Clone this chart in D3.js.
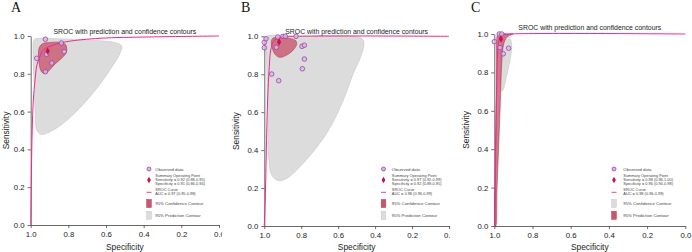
<!DOCTYPE html>
<html>
<head>
<meta charset="utf-8">
<script src="https://cdn.jsdelivr.net/npm/d3@7"></script>
<style>
  html, body { margin: 0; padding: 0; background: #fff; }
  svg { display: block; font-family: "Liberation Sans", Arial, sans-serif; }
  .axis path, .axis line { stroke: #444; stroke-width: 0.8; }
  .axis text { fill: #222; font-size: 7.8px; }
  .title { font-size: 6.9px; fill: #222; }
  .axlabel { font-size: 8.4px; fill: #222; }
  .letter { font-family: "Liberation Serif", "Times New Roman", serif; font-size: 14px; fill: #111; }
  .legend text { font-size: 4.3px; fill: #444; }
  .legend text.small { font-size: 3.9px; }
</style>
</head>
<body>
<svg id="chart" width="692" height="252"></svg>
<script>
/* =======================
   DATA  (spec, sens pairs)
======================= */

const ticks = [1.0, 0.8, 0.6, 0.4, 0.2, 0.0];
const title = "SROC with prediction and confidence contours";

// Panel A
const aObserved = [[0.968, 0.882], [0.922, 0.983], [0.837, 0.963], [0.822, 0.917],
                   [0.888, 0.857], [0.922, 0.811], [0.916, 0.903]];
const aSummary = [0.91, 0.92];
const aRed = [[0.953, 0.942], [0.935, 0.960], [0.897, 0.966], [0.844, 0.966], [0.815, 0.955],
              [0.810, 0.915], [0.834, 0.884], [0.871, 0.852], [0.908, 0.812], [0.929, 0.802],
              [0.945, 0.815], [0.956, 0.862], [0.959, 0.910]];
const aGray = [[0.979, 0.983], [0.951, 0.988], [0.809, 0.984], [0.632, 0.975], [0.552, 0.965],
               [0.517, 0.947], [0.522, 0.917], [0.579, 0.820], [0.685, 0.679], [0.827, 0.538],
               [0.915, 0.485], [0.947, 0.480], [0.968, 0.503], [0.976, 0.591], [0.982, 0.750],
               [0.988, 0.926], [0.986, 0.970]];
const aSroc = [[1.0, 0.0], [0.998, 0.132], [0.996, 0.291], [0.992, 0.503], [0.986, 0.661],
               [0.977, 0.767], [0.967, 0.847], [0.954, 0.884], [0.933, 0.926], [0.880, 0.952],
               [0.809, 0.970], [0.632, 0.988], [0.366, 0.995], [0.0, 1.0]];
const aSummaryText = ["Summary Operating Point", "Sensitivity = 0.92 (0.88-0.95)", "Specificity = 0.91 (0.86-0.94)"];
const aCurveText = ["SROC Curve", "AUC = 0.97 (0.95-0.98)"];

// Panel B
const bObserved = [[1.0, 0.968], [1.0, 0.940], [0.991, 0.987], [0.927, 0.996], [0.899, 1.0],
                   [0.886, 1.0], [0.828, 1.0], [0.935, 0.942], [0.796, 0.947], [0.783, 0.953],
                   [0.783, 0.880], [0.794, 0.829], [0.960, 0.801], [0.922, 0.766]];
const bSummary = [0.92, 0.97];
const bRed = [[0.955, 0.989], [0.915, 0.993], [0.861, 0.989], [0.830, 0.977], [0.825, 0.958],
              [0.843, 0.928], [0.879, 0.901], [0.915, 0.889], [0.938, 0.901], [0.955, 0.931],
              [0.962, 0.963]];
const bGray = [[0.991, 0.998], [0.825, 1.0], [0.500, 0.998], [0.467, 0.984], [0.460, 0.963],
               [0.478, 0.892], [0.518, 0.805], [0.572, 0.664], [0.662, 0.489], [0.789, 0.331],
               [0.879, 0.251], [0.924, 0.239], [0.960, 0.269], [0.975, 0.348], [0.982, 0.576],
               [0.987, 0.840], [0.991, 0.963]];
const bSroc = [[1.0, 0.0], [0.995, 0.137], [0.987, 0.489], [0.982, 0.664], [0.973, 0.840],
               [0.965, 0.928], [0.951, 0.972], [0.915, 0.995], [0.825, 1.0], [0.0, 1.0]];
const bSummaryText = ["Summary Operating Point", "Sensitivity = 0.97 (0.92-0.99)", "Specificity = 0.92 (0.89-0.95)"];
const bCurveText = ["SROC Curve", "AUC = 0.98 (0.96-0.99)"];

// Panel C
const cObserved = [[1.0, 0.960], [0.974, 1.0], [0.961, 1.0], [0.970, 0.929], [0.953, 0.897], [0.925, 0.926]];
const cSummary = [0.965, 0.974];
const cGray = [[0.934, 0.992], [0.914, 0.969], [0.909, 0.932], [0.915, 0.880], [0.928, 0.813],
               [0.944, 0.745], [0.954, 0.708], [0.963, 0.703], [0.969, 0.734], [0.969, 0.813],
               [0.965, 0.891], [0.958, 0.953], [0.949, 0.984]];
const cRed = [[0.995, 0.0], [0.994, 0.240], [0.991, 0.500], [0.988, 0.708], [0.988, 0.865],
              [0.988, 0.958], [0.983, 0.995], [0.970, 1.0], [0.928, 1.0], [0.902, 1.0],
              [0.934, 0.984], [0.952, 0.943], [0.960, 0.865], [0.965, 0.760], [0.970, 0.604],
              [0.978, 0.396], [0.986, 0.188], [0.992, 0.0]];
const cSroc = [[0.999, 0.0], [0.994, 0.396], [0.988, 0.708], [0.983, 0.891], [0.975, 0.969],
               [0.960, 0.995], [0.918, 1.0], [0.0, 1.0]];
const cSummaryText = ["Summary Operating Point", "Sensitivity = 0.98 (0.96-1.00)", "Specificity = 0.96 (0.94-0.98)"];
const cCurveText = ["SROC Curve", "AUC = 0.98 (0.96-0.99)"];

/* =======================
   CHART LOGIC
======================= */

const svg = d3.select("#chart");
const pink = "#f0288c";
const redFill = "#c9566f", redStroke = "#ad3752";
const grayFill = "#dcdcdc", grayStroke = "#c6c6c6";

const drawPanel = ({
    id, letter, left, right, top, bottom, clipL, clipR, titleY,
    observed, summary, red, gray, sroc, summaryText, curveText,
    legX, legGap, boxes
}) => {
    svg.append("clipPath").attr("id", `clip${id}`)
        .append("rect").attr("x", clipL).attr("y", 0).attr("width", clipR - clipL).attr("height", 252);

    const g = svg.append("g").attr("clip-path", `url(#clip${id})`);

    const x = d3.scaleLinear().domain([1, 0]).range([left, right]);
    const y = d3.scaleLinear().domain([0, 1]).range([bottom, top]);

    const shape = d3.line().x(d => x(d[0])).y(d => y(d[1])).curve(d3.curveCatmullRomClosed.alpha(0.5));
    const curve = d3.line().x(d => x(d[0])).y(d => y(d[1])).curve(d3.curveCatmullRom.alpha(0.5));

    // Contours
    g.append("path").datum(gray).attr("d", shape)
        .attr("fill", grayFill).attr("stroke", grayStroke).attr("stroke-width", 0.6);
    g.append("path").datum(red).attr("d", shape)
        .attr("fill", redFill).attr("fill-opacity", 0.8).attr("stroke", redStroke).attr("stroke-width", 0.6);

    // Axes
    g.append("g").attr("class", "axis").attr("transform", `translate(0,${bottom})`)
        .call(d3.axisBottom(x).tickValues(ticks).tickFormat(d3.format(".1f")).tickSize(3).tickSizeOuter(0));
    g.append("g").attr("class", "axis").attr("transform", `translate(${left},0)`)
        .call(d3.axisLeft(y).tickValues(ticks).tickFormat(d3.format(".1f")).tickSize(3).tickSizeOuter(0));

    // SROC curve
    g.append("path").datum(sroc).attr("d", curve)
        .attr("fill", "none").attr("stroke", pink).attr("stroke-width", 1);

    // Observed points
    g.selectAll(".obs").data(observed).enter().append("circle")
        .attr("class", "obs")
        .attr("cx", d => x(d[0])).attr("cy", d => y(d[1])).attr("r", 2.3)
        .attr("fill", "#dcb8e4").attr("fill-opacity", 0.8)
        .attr("stroke", "#9a44aa").attr("stroke-width", 0.8);

    // Summary point
    g.append("path").attr("d", d3.symbol(d3.symbolDiamond, 16))
        .attr("transform", `translate(${x(summary[0])},${y(summary[1])})`)
        .attr("fill", "#d0104a");

    // Titles
    g.append("text").attr("class", "title").attr("x", (left + right) / 2).attr("y", titleY)
        .attr("text-anchor", "middle").text(title);
    g.append("text").attr("class", "axlabel").attr("x", (left + right) / 2).attr("y", 250)
        .attr("text-anchor", "middle").text("Specificity");
    g.append("text").attr("class", "axlabel")
        .attr("transform", `translate(${clipL + 9},${(top + bottom) / 2}) rotate(-90)`)
        .attr("text-anchor", "middle").text("Sensitivity");
    svg.append("text").attr("class", "letter").attr("x", clipL + 11).attr("y", 11.5).text(letter);

    // Legend
    const leg = g.append("g").attr("class", "legend");
    const tx = legX + legGap;
    leg.append("circle").attr("cx", legX).attr("cy", 169).attr("r", 2)
        .attr("fill", "#dcb8e4").attr("stroke", "#9a44aa").attr("stroke-width", 0.8);
    leg.append("text").attr("x", tx).attr("y", 170.5).text("Observed data");

    leg.append("path").attr("d", d3.symbol(d3.symbolDiamond, 12))
        .attr("transform", `translate(${legX},180)`).attr("fill", "#d0104a");
    summaryText.forEach((t, i) => {
        leg.append("text").attr("class", "small").attr("x", tx).attr("y", 176.6 + i * 4).text(t);
    });

    leg.append("line").attr("x1", legX - 2.5).attr("x2", legX + 2.5).attr("y1", 192.3).attr("y2", 192.3)
        .attr("stroke", pink).attr("stroke-width", 0.9);
    curveText.forEach((t, i) => {
        leg.append("text").attr("class", "small").attr("x", tx).attr("y", 191.4 + i * 3.9).text(t);
    });

    boxes.forEach((b, i) => {
        const yy = 199.5 + i * 11.8;
        leg.append("rect").attr("x", legX - 2.3).attr("y", yy).attr("width", 4.6).attr("height", 8)
            .attr("fill", b[1] === "red" ? redFill : grayFill)
            .attr("stroke", b[1] === "red" ? redStroke : grayStroke).attr("stroke-width", 0.5);
        leg.append("text").attr("x", tx).attr("y", yy + 5.3).text(b[0]);
    });
};

drawPanel({
    id: "A", letter: "A", left: 30.7, right: 219, top: 36, bottom: 225, clipL: 0, clipR: 222, titleY: 33.5,
    observed: aObserved, summary: aSummary, red: aRed, gray: aGray, sroc: aSroc,
    summaryText: aSummaryText, curveText: aCurveText, legX: 149, legGap: 6.3,
    boxes: [["95% Confidence Contour", "red"], ["95% Prediction Contour", "gray"]]
});

drawPanel({
    id: "B", letter: "B", left: 264.3, right: 449, top: 36.3, bottom: 226, clipL: 230, clipR: 450, titleY: 33.5,
    observed: bObserved, summary: bSummary, red: bRed, gray: bGray, sroc: bSroc,
    summaryText: bSummaryText, curveText: bCurveText, legX: 383.5, legGap: 8.3,
    boxes: [["95% Confidence Contour", "red"], ["95% Prediction Contour", "gray"]]
});

drawPanel({
    id: "C", letter: "C", left: 494.3, right: 685.3, top: 34, bottom: 226, clipL: 460, clipR: 692, titleY: 30.2,
    observed: cObserved, summary: cSummary, red: cRed, gray: cGray, sroc: cSroc,
    summaryText: cSummaryText, curveText: cCurveText, legX: 614, legGap: 9.3,
    boxes: [["95% Confidence Contour", "gray"], ["95% Prediction Contour", "red"]]
});
</script>
</body>
</html>
